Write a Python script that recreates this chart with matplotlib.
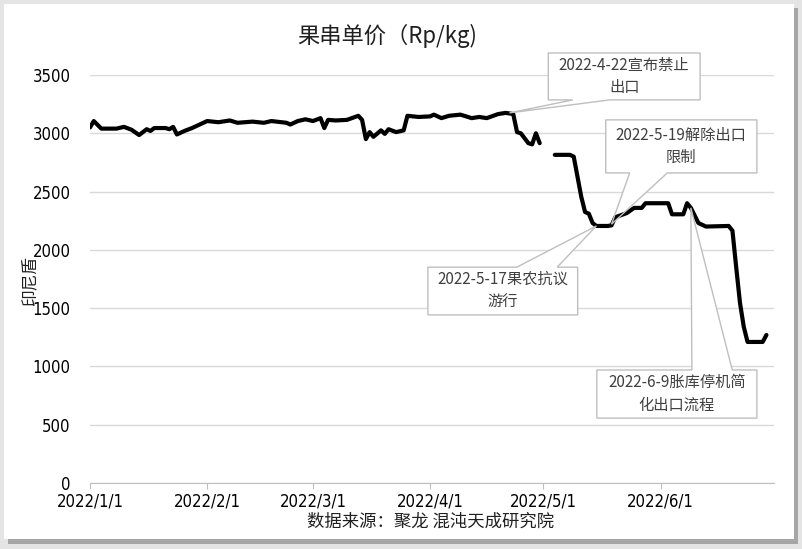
import matplotlib
matplotlib.use('Agg')
import numpy as np
import pandas as pd
import matplotlib.pyplot as plt
import matplotlib.dates as mdates
from matplotlib.patches import Polygon, Rectangle

plt.rcParams['font.family'] = ['Noto Sans CJK SC', 'DejaVu Sans']

# 果串单价 (Rp/kg)
dates = [
    '2022-01-01', '2022-01-02', '2022-01-04', '2022-01-06', '2022-01-08',
    '2022-01-10', '2022-01-12', '2022-01-14', '2022-01-16', '2022-01-17',
    '2022-01-18', '2022-01-21', '2022-01-22', '2022-01-23', '2022-01-24',
    '2022-01-26', '2022-01-28', '2022-01-30', '2022-02-01', '2022-02-04',
    '2022-02-07', '2022-02-09', '2022-02-13', '2022-02-16', '2022-02-18',
    '2022-02-22', '2022-02-23', '2022-02-25', '2022-02-27', '2022-03-01',
    '2022-03-03', '2022-03-04', '2022-03-05', '2022-03-07', '2022-03-10',
    '2022-03-13', '2022-03-14', '2022-03-15', '2022-03-16', '2022-03-17',
    '2022-03-19', '2022-03-20', '2022-03-21', '2022-03-23', '2022-03-25',
    '2022-03-26', '2022-03-29', '2022-04-01', '2022-04-02', '2022-04-04',
    '2022-04-06', '2022-04-09', '2022-04-12', '2022-04-14', '2022-04-16',
    '2022-04-19', '2022-04-21', '2022-04-23', '2022-04-24', '2022-04-25',
    '2022-04-27', '2022-04-28', '2022-04-29', '2022-04-30', '2022-05-02',
    '2022-05-04', '2022-05-08', '2022-05-09', '2022-05-11', '2022-05-12',
    '2022-05-13', '2022-05-14', '2022-05-15', '2022-05-18', '2022-05-19',
    '2022-05-20', '2022-05-23', '2022-05-25', '2022-05-27', '2022-05-28',
    '2022-06-03', '2022-06-04', '2022-06-07', '2022-06-08', '2022-06-09',
    '2022-06-11', '2022-06-13', '2022-06-19', '2022-06-20', '2022-06-21',
    '2022-06-22', '2022-06-23', '2022-06-24', '2022-06-28', '2022-06-29',
]
prices = [
    3050, 3105, 3040, 3040, 3040,
    3055, 3030, 2985, 3035, 3020,
    3045, 3045, 3035, 3055, 2990,
    3020, 3045, 3075, 3105, 3095,
    3110, 3090, 3100, 3090, 3105,
    3090, 3075, 3105, 3120, 3105,
    3130, 3045, 3115, 3110, 3115,
    3150, 3115, 2950, 3010, 2970,
    3025, 2995, 3035, 3010, 3025,
    3150, 3140, 3145, 3160, 3130,
    3150, 3160, 3130, 3140, 3130,
    3165, 3175, 3165, 3010, 3000,
    2915, 2905, 3000, 2915, np.nan,
    2815, 2815, 2800, 2455, 2325,
    2310, 2230, 2205, 2205, 2210,
    2280, 2315, 2360, 2360, 2400,
    2400, 2305, 2305, 2400, 2360,
    2230, 2200, 2205, 2165, 1850,
    1545, 1340, 1210, 1210, 1270,
]

tick_dates = ['2022-01-01', '2022-02-01', '2022-03-01',
              '2022-04-01', '2022-05-01', '2022-06-01']
tick_labels = ['2022/1/1', '2022/2/1', '2022/3/1',
               '2022/4/1', '2022/5/1', '2022/6/1']
y_ticks = [0, 500, 1000, 1500, 2000, 2500, 3000, 3500]

# callouts: text, date and price the pointer aims at
note_texts = ['2022-4-22宣布禁止\n出口', '2022-5-19解除出口\n限制',
              '2022-5-17果农抗议\n游行', '2022-6-9胀库停机简\n化出口流程']
note_dates = ['2022-04-22', '2022-05-19', '2022-05-15', '2022-06-09']
note_prices = [3175, 2220, 2205, 2360]
# box (x0, y0, x1, y1) in axes fraction, side of the pointer, pointer base
note_boxes = [
    ((0.670, 0.939, 0.892, 1.054), 'bottom', (0.706, 0.760)),
    ((0.754, 0.760, 0.975, 0.890), 'bottom', (0.789, 0.844)),
    ((0.494, 0.412, 0.713, 0.529), 'top', (0.624, 0.683)),
    ((0.741, 0.159, 0.975, 0.277), 'top', (0.880, 0.939)),
]

NUM_FONT = ['DejaVu Sans']
GRID = '#d9d9d9'
EDGE = '#bfbfbf'
TXT = '#404040'


def callout_verts(box, side, base, tip):
    x0, y0, x1, y1 = box
    b0, b1 = base
    if side == 'bottom':
        return [(x0, y0), (b0, y0), tip, (b1, y0), (x1, y0), (x1, y1), (x0, y1)]
    return [(x0, y0), (x1, y0), (x1, y1), (b1, y1), tip, (b0, y1), (x0, y1)]


fig = plt.figure(figsize=(8.02, 5.49), dpi=100)
fig.patch.set_facecolor('#e4e4e4')
# card with a soft shadow
fig.patches.append(Rectangle((8 / 802, 5 / 549), 790 / 802, 536 / 549,
                             transform=fig.transFigure, fc='#a6a6a6',
                             ec='none', zorder=-3))
fig.patches.append(Rectangle((4 / 802, 10 / 549), 790 / 802, 535 / 549,
                             transform=fig.transFigure, fc='white',
                             ec='none', zorder=-2))

ax = fig.add_axes([90 / 802, 1 - 483 / 549, 684 / 802, 408 / 549])
ax.set_facecolor('none')

x = pd.to_datetime(dates)
ax.plot(x, prices, color='black', lw=3, zorder=3,
        solid_joinstyle='round', solid_capstyle='round')

ax.set_xlim(pd.Timestamp('2022-01-01'), pd.Timestamp('2022-07-01'))
ax.set_ylim(0, 3500)
ax.set_yticks(y_ticks)
ax.set_yticklabels([str(v) for v in y_ticks], family=NUM_FONT,
                   fontstretch='condensed', fontsize=12, color='black')
ax.set_xticks(pd.to_datetime(tick_dates))
ax.set_xticklabels(tick_labels, family=NUM_FONT, fontstretch='condensed',
                   fontsize=12, color='black')
ax.tick_params(axis='y', length=0, pad=14)
ax.tick_params(axis='x', length=4, color=EDGE, pad=3)
ax.yaxis.grid(True, color=GRID, lw=1)
ax.set_axisbelow(True)
for side in ['top', 'right', 'left']:
    ax.spines[side].set_visible(False)
ax.spines['bottom'].set_color(EDGE)

to_axes = ax.transAxes.inverted()
for text, d, p, (box, side, base) in zip(note_texts, note_dates,
                                         note_prices, note_boxes):
    disp = ax.transData.transform((mdates.date2num(pd.Timestamp(d)), p))
    tip = tuple(to_axes.transform(disp))
    verts = callout_verts(box, side, base, tip)
    ax.add_patch(Polygon(verts, closed=True, transform=ax.transAxes,
                         fc='white', ec='none', clip_on=False, zorder=2))
    ax.add_patch(Polygon(verts, closed=True, transform=ax.transAxes,
                         fc='none', ec=EDGE, lw=1, clip_on=False, zorder=4))
    ax.text((box[0] + box[2]) / 2, (box[1] + box[3]) / 2, text,
            transform=ax.transAxes, ha='center', va='center',
            multialignment='center', fontsize=11, color=TXT,
            linespacing=1.45, zorder=6)

fig.text(0.483, 0.934, '果串单价（Rp/kg)', ha='center', va='center',
         fontsize=16, color='#202020')
fig.text(0.037, 0.49, '印尼盾', rotation=90, ha='center', va='center',
         fontsize=12, color='#202020')
fig.text(0.537, 0.049, '数据来源：聚龙 混沌天成研究院', ha='center',
         va='center', fontsize=12.5, color='#202020')

fig.savefig('out.png', dpi=100, facecolor=fig.get_facecolor())
